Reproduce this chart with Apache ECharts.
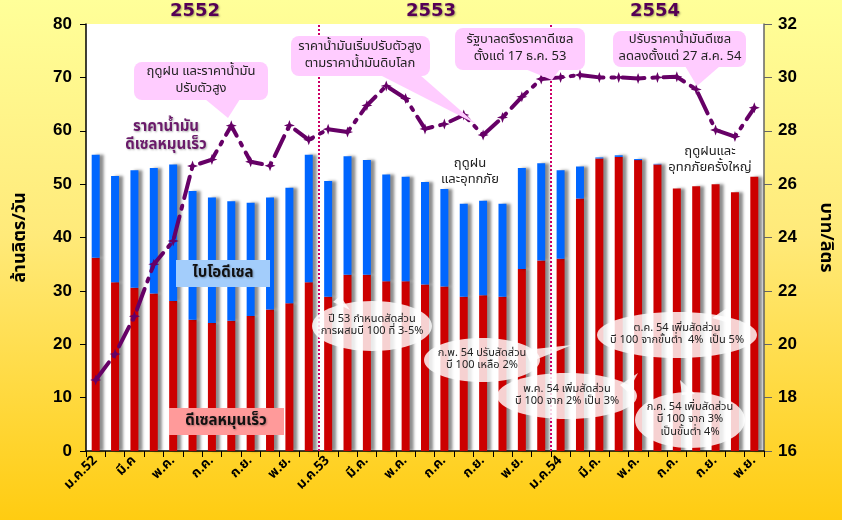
<!DOCTYPE html>
<html><head><meta charset="utf-8">
<script src="https://cdn.jsdelivr.net/npm/echarts@6/dist/echarts.min.js"></script>
<style>html,body{margin:0;padding:0;background:#fff}#c{width:842px;height:520px}</style>
</head><body><div id="c"></div>
<script>
const months = ['ม.ค.52','ก.พ.','มี.ค','เม.ย.','พ.ค.','มิ.ย.','ก.ค.','ส.ค.','ก.ย.','ต.ค.','พ.ย.','ธ.ค.',
  'ม.ค.53','ก.พ.','มี.ค.','เม.ย.','พ.ค.','มิ.ย.','ก.ค.','ส.ค.','ก.ย.','ต.ค.','พ.ย.','ธ.ค.',
  'ม.ค.54','ก.พ.','มี.ค.','เม.ย.','พ.ค.','มิ.ย.','ก.ค.','ส.ค.','ก.ย.','ต.ค.','พ.ย.'];
const dieselHSD = [36.2,31.6,30.6,29.5,28.1,24.6,24.0,24.4,25.3,26.5,27.7,31.6,
  28.9,33.0,33.0,31.8,31.8,31.2,30.8,28.9,29.2,28.9,34.1,35.7,
  36.0,47.3,54.8,55.1,54.5,53.7,49.2,49.6,50.0,48.5,51.4];
const biodiesel = [19.3,19.9,22.0,23.5,25.6,24.1,23.5,22.4,21.2,21.0,21.6,23.9,
  21.7,22.2,21.5,20.0,19.6,19.2,18.3,17.4,17.7,17.4,18.9,18.2,
  16.6,6.0,0.2,0.3,0.2,0.1,0,0,0,0,0];
const price = [18.66,19.63,21.05,23.0,23.87,26.68,26.92,28.19,26.84,26.69,28.2,27.66,
  28.06,27.95,28.95,29.68,29.21,28.07,28.25,28.59,27.84,28.5,29.27,29.94,
  30.0,30.09,30.0,30.0,29.96,30.0,30.02,29.55,28.03,27.78,28.86];
const yearLines = [12, 24];
const years = ['2552','2553','2554'];
const leftTicks = {min:0, max:80, interval:10};
const rightTicks = {min:16, max:32, interval:2};

const TH = "Tahoma, 'Noto Sans Thai', 'Loma', 'Garuda', 'Noto Sans', sans-serif";
const chart = echarts.init(document.getElementById('c'), null, {renderer:'canvas'});

function pinkBox(x,y,w,h,pts,lines,tx){
  return [
    {type:'polygon', z:100, shape:{points:pts}, style:{fill:'#ffccff'}},
    {type:'rect', z:100, shape:{x:x,y:y,width:w,height:h,r:8}, style:{fill:'#ffccff'}},
    {type:'text', z:101, x:tx, y:y+h/2, style:{text:lines, fill:'#222', font:'13px '+TH, textAlign:'center', textVerticalAlign:'middle', lineHeight:17}}
  ];
}
function bubble(cx,cy,rx,ry,pts,lines,fs){
  return [
    {type:'polygon', z:100, shape:{points:pts}, style:{fill:'rgba(255,255,255,0.82)'}},
    {type:'ellipse', z:100, shape:{cx:cx,cy:cy,rx:rx,ry:ry}, style:{fill:'rgba(255,255,255,0.82)'}},
    {type:'text', z:101, x:cx, y:cy, style:{text:lines, fill:'#222', font:(fs||11)+'px '+TH, textAlign:'center', textVerticalAlign:'middle', lineHeight:12.5}}
  ];
}

let graphics = [];
const yearX = [195, 431, 655];
years.forEach((t,i)=>graphics.push({type:'text', z:101, x:yearX[i], y:11, style:{text:t, fill:'#550055', font:'bold 18px Verdana, "DejaVu Sans", sans-serif', textAlign:'center', textVerticalAlign:'middle', textShadowColor:'rgba(0,0,0,0.35)', textShadowBlur:2, textShadowOffsetX:1, textShadowOffsetY:1}}));
graphics = graphics.concat(
  pinkBox(134,62,134,38,[[205,99],[240,99],[228,118]],'ฤดูฝน และราคาน้ำมัน\nปรับตัวสูง',201),
  pinkBox(291,36,139,40,[[380,75],[420,75],[476,124]],'ราคาน้ำมันเริ่มปรับตัวสูง\nตามราคาน้ำมันดิบโลก',360),
  pinkBox(455,28,130,42,[[525,69],[560,69],[552,80]],'รัฐบาลตรึงราคาดีเซล\nตั้งแต่ 17 ธ.ค. 53',520),
  pinkBox(613,31,133,36,[[685,66],[720,66],[697,86]],'ปรับราคาน้ำมันดีเซล\nลดลงตั้งแต่ 27 ส.ค. 54',680),
  bubble(372,326,60,25,[[333,302],[340,296],[350,310]],'ปี 53 กำหนดสัดส่วน\nการผสมบี 100 ที่ 3-5%'),
  bubble(482,360,58,22,[[525,350],[572,345],[530,362]],'ก.พ. 54 ปรับสัดส่วน\nบี 100 เหลือ 2%'),
  bubble(567,396,70,23,[[620,385],[638,373],[628,392]],'พ.ค. 54 เพิ่มสัดส่วน\nบี 100 จาก 2% เป็น 3%'),
  bubble(677,335,80,23,[[712,318],[730,306],[726,322]],'ต.ค. 54 เพิ่มสัดส่วน\nบี 100 จากขั้นต่ำ  4%  เป็น 5%'),
  bubble(690,420,55,28,[[682,395],[680,380],[695,394]],'ก.ค. 54 เพิ่มสัดส่วน\nบี 100 จาก 3%\nเป็นขั้นต่ำ 4%'),
  [
   {type:'text', z:101, x:166, y:137, style:{text:'ราคาน้ำมัน\nดีเซลหมุนเร็ว', fill:'#6a1a6a', font:'bold 15px '+TH, textAlign:'center', textVerticalAlign:'middle', lineHeight:18, textShadowColor:'rgba(0,0,0,0.3)', textShadowBlur:2, textShadowOffsetX:1, textShadowOffsetY:1}},
   {type:'rect', z:100, shape:{x:176,y:260,width:94,height:27}, style:{fill:'#a3cdfb'}},
   {type:'text', z:101, x:223, y:274, style:{text:'ไบโอดีเซล', fill:'#111', font:'bold 15px '+TH, textAlign:'center', textVerticalAlign:'middle', textShadowColor:'rgba(0,0,0,0.3)', textShadowBlur:2, textShadowOffsetX:1, textShadowOffsetY:1}},
   {type:'rect', z:100, shape:{x:169,y:408,width:115,height:27}, style:{fill:'#ff9a9a'}},
   {type:'text', z:101, x:226, y:422, style:{text:'ดีเซลหมุนเร็ว', fill:'#111', font:'bold 15px '+TH, textAlign:'center', textVerticalAlign:'middle', textShadowColor:'rgba(0,0,0,0.3)', textShadowBlur:2, textShadowOffsetX:1, textShadowOffsetY:1}},
   {type:'text', z:101, x:470, y:172, style:{text:'ฤดูฝน\nและอุทกภัย', fill:'#222', font:'13px '+TH, textAlign:'center', textVerticalAlign:'middle', lineHeight:16}},
   {type:'text', z:101, x:710, y:160, style:{text:'ฤดูฝนและ\nอุทกภัยครั้งใหญ่', fill:'#222', font:'13px '+TH, textAlign:'center', textVerticalAlign:'middle', lineHeight:16}}
  ]
);

const star = 'path://M0,-10 L2.6,-2.6 L10,0 L2.6,2.6 L0,10 L-2.6,2.6 L-10,0 L-2.6,-2.6 Z';
const barShadow = {shadowColor:'rgba(0,0,0,0.45)', shadowBlur:3, shadowOffsetX:4, shadowOffsetY:0};

chart.setOption({
  animation:false,
  backgroundColor:{type:'linear', x:0,y:0,x2:0,y2:1, colorStops:[{offset:0,color:'#ffff99'},{offset:0.45,color:'#ffea7a'},{offset:1,color:'#ffcc11'}]},
  grid:{left:86, right:76, top:24, bottom:69, show:true, backgroundColor:'#ffffff', borderWidth:0},
  xAxis:[{
    type:'category', data:months, boundaryGap:true,
    axisLine:{lineStyle:{color:'#000', width:1.5}},
    axisTick:{show:true, interval:0, length:6, lineStyle:{color:'#000'}},
    axisLabel:{interval:1, rotate:45, margin:8, color:'#000', fontWeight:'bold', fontSize:13.5, fontFamily:TH}
  },{
    type:'value', min:0, max:months.length, show:false
  }],
  yAxis:[{
    type:'value', min:leftTicks.min, max:leftTicks.max, interval:leftTicks.interval,
    name:'ล้านลิตร/วัน', nameLocation:'middle', nameGap:56, nameRotate:90,
    nameTextStyle:{color:'#000', fontWeight:'bold', fontSize:18, fontFamily:TH},
    axisLine:{show:true, lineStyle:{color:'#000', width:1.5}},
    axisTick:{show:true, length:6, lineStyle:{color:'#000'}},
    axisLabel:{color:'#000', fontWeight:'bold', fontSize:17, fontFamily:'Arial, "Liberation Sans", sans-serif', margin:14},
    splitLine:{show:false}
  },{
    type:'value', min:rightTicks.min, max:rightTicks.max, interval:rightTicks.interval, position:'right',
    name:'บาท/ลิตร', nameLocation:'middle', nameGap:52, nameRotate:-90,
    nameTextStyle:{color:'#000', fontWeight:'bold', fontSize:18, fontFamily:TH},
    axisLine:{show:true, lineStyle:{color:'#666', width:1.5}},
    axisTick:{show:true, length:8, lineStyle:{color:'#666'}},
    axisLabel:{color:'#000', fontWeight:'bold', fontSize:17, fontFamily:'Arial, "Liberation Sans", sans-serif', margin:14},
    splitLine:{show:false}
  }],
  series:[
    {name:'ดีเซลหมุนเร็ว', type:'bar', stack:'v', data:dieselHSD, barWidth:8, itemStyle:Object.assign({color:'#cc0000'}, barShadow)},
    {name:'ไบโอดีเซล', type:'bar', stack:'v', data:biodiesel, barWidth:8, itemStyle:Object.assign({color:'#0066ff'}, barShadow)},
    {name:'ราคาน้ำมันดีเซลหมุนเร็ว', type:'line', yAxisIndex:1, data:price, z:5,
     symbol:star, symbolSize:11, itemStyle:{color:'#660066'},
     lineStyle:{color:'#660066', width:4, type:[22,8,3,8], cap:'round'}},
    {type:'line', xAxisIndex:1, yAxisIndex:0, data:[], z:4,
     markLine:{silent:true, symbol:'none', label:{show:false},
       lineStyle:{color:'#cc0066', type:'dotted', width:2},
       data:yearLines.map(v=>({xAxis:v}))}}
  ],
  graphic:graphics
});
</script></body></html>
